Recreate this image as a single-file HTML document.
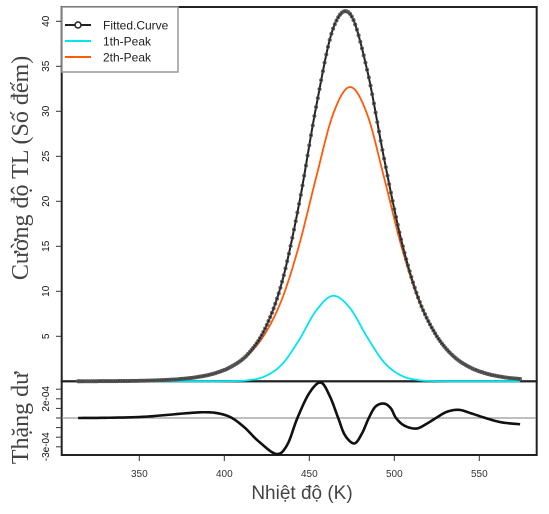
<!DOCTYPE html>
<html><head><meta charset="utf-8"><style>
body{margin:0;background:#fff}
svg{display:block;font-family:"Liberation Sans",sans-serif}
</style></head><body>
<svg id="c" width="549" height="514" viewBox="0 0 549 514"></svg>
<script>
const temps=[314,324,334,344,354,364,374,384,394,404,414,424,434,444,454,464,474,484,494,504,514,524,534,544,554,564,574];
const fittedVals=[0.006,0.011,0.021,0.039,0.072,0.135,0.25,0.47,0.87,1.617,3.045,5.86,11.07,19.71,30.48,39.19,40.82,34.61,24.74,15.76,9.31,5.32,2.93,1.60,0.87,0.47,0.25];
const peak1Vals=[0,0,0,0,0,0,0,0,0,0.017,0.115,0.56,1.90,4.59,7.85,9.50,8.12,4.92,2.11,0.64,0.137,0.02,0,0,0,0,0];
const peak2Vals=[0.006,0.011,0.021,0.039,0.072,0.135,0.25,0.47,0.87,1.60,2.93,5.30,9.17,15.12,22.63,29.69,32.7,29.69,22.63,15.12,9.17,5.30,2.93,1.60,0.87,0.47,0.25];
const residTemps=[314,330,350,365,378,388,396,404,412,420,430.6,437,443,450,456.7,462,467,471,476.5,481,485,489,494,498,501,506,513,519,524.5,531,538,545,553.6,563,574];
const residVals=[0,0.02,0.1,0.3,0.5,0.6,0.5,0.05,-1.0,-2.4,-3.75,-2.8,0,2.6,3.7,2.3,0,-1.8,-2.65,-1.6,0,1.2,1.5,1.0,0,-0.8,-1.1,-0.6,0,0.65,0.85,0.5,0,-0.45,-0.65];
const xTicks=[350,400,450,500,550];
const yTicks=[5,10,15,20,25,30,35,40];
const rTicks=[3,2,1,0,-1,-2,-3];
const rTickLabels={2:"2e-04","-3":"-3e-04"};

const NS="http://www.w3.org/2000/svg";
const svg=document.getElementById('c');
function el(t,a,p){const e=document.createElementNS(NS,t);for(const k in a)e.setAttribute(k,a[k]);(p||svg).appendChild(e);return e;}
const X=k=>139.3+(k-350)*1.7;
const Y=v=>381.3-v*9.0;
const RY=r=>418-r*9.6;
function spline(xs,ys,n){const pts=[];const m=xs.length;
 for(let i=0;i<m-1;i++){const p0=[xs[Math.max(i-1,0)],ys[Math.max(i-1,0)]],p1=[xs[i],ys[i]],p2=[xs[i+1],ys[i+1]],p3=[xs[Math.min(i+2,m-1)],ys[Math.min(i+2,m-1)]];
  for(let s=0;s<n;s++){const t=s/n,t2=t*t,t3=t2*t;
   const f=(a,b,c,d)=>0.5*((2*b)+(-a+c)*t+(2*a-5*b+4*c-d)*t2+(-a+3*b-3*c+d)*t3);
   pts.push([f(p0[0],p1[0],p2[0],p3[0]),f(p0[1],p1[1],p2[1],p3[1])]);}}
 pts.push([xs[m-1],ys[m-1]]);return pts;}
const toD=p=>'M'+p.map(q=>q[0].toFixed(2)+','+q[1].toFixed(2)).join('L');

const topFrame=el('rect',{x:61.7,y:7,width:475,height:374.3,fill:'none',stroke:'#222','stroke-width':2});


const botFrame=el('rect',{x:61.7,y:381.3,width:475,height:73.7,fill:'none',stroke:'#222','stroke-width':2});


const zl=el('line',{x1:62,x2:536,y1:RY(0),y2:RY(0),stroke:'#999','stroke-width':1.2});



yTicks.forEach(v=>{
 const t=el('line',{x1:56,x2:61.7,y1:Y(v),y2:Y(v),stroke:'#333'});
 
 
 const l=el('text',{x:0,y:0,'font-size':10,'text-anchor':'middle',fill:'#111',transform:`translate(49,${Y(v)}) rotate(-90)`});
 l.textContent=v;
 
 
});
rTicks.forEach(r=>{
 const t=el('line',{x1:56,x2:61.7,y1:RY(r),y2:RY(r),stroke:'#333'});
 
 
 if(rTickLabels[r]){const l=el('text',{x:0,y:0,'font-size':10,'text-anchor':'middle',fill:'#111',transform:`translate(49,${RY(r)}) rotate(-90)`});
  l.textContent=rTickLabels[r];
  
  }
});
xTicks.forEach(k=>{
 const t=el('line',{x1:X(k),x2:X(k),y1:455,y2:461,stroke:'#333'});
 
 
 const l=el('text',{x:X(k),y:477,'font-size':10,'text-anchor':'middle',fill:'#333'});
 l.textContent=k;
 
 
});

const c1=el('path',{d:toD(spline(temps.map(X),peak1Vals.map(Y),12)),fill:'none',stroke:'#00e5ee','stroke-width':1.8});


const c2=el('path',{d:toD(spline(temps.map(X),peak2Vals.map(Y),12)),fill:'none',stroke:'#ff5a0a','stroke-width':1.8});


const fp=spline(temps.map(X),fittedVals.map(Y),12);
const c3=el('path',{d:toD(fp),fill:'none',stroke:'#222','stroke-width':2});


const mg=el('g',{fill:'none',stroke:'#555','stroke-width':0.8});


const fpm=spline(temps.map(X),fittedVals.map(Y),10);
fpm.forEach(p=>{const m=el('circle',{cx:p[0],cy:p[1],r:1.6},mg);
 
 });

const rp=spline(residTemps.map(X),residVals.map(RY),8);
const rl=el('path',{d:toD(rp),fill:'none',stroke:'#111','stroke-width':2.6});



const lg=el('g',{});


el('rect',{x:62,y:7,width:116,height:65,fill:'#fff',stroke:'#999','stroke-width':1.5},lg);
[['Fitted.Curve','#222',25],['1th-Peak','#00e5ee',41],['2th-Peak','#ff5a0a',57]].forEach(([n,c,y],i)=>{
 const ln=el('line',{x1:65,x2:91,y1:y,y2:y,stroke:c,'stroke-width':2},lg);
 
 
 if(i===0){el('circle',{cx:78,cy:y,r:3,fill:'#fff',stroke:'#222','stroke-width':1.5},lg);}
 const t=el('text',{x:103,y:y+4.5,'font-size':12,fill:'#222'},lg);
 t.textContent=n;
 
 
});

const yt=el('text',{x:0,y:0,'font-size':24,'text-anchor':'middle',fill:'#444','font-family':'"Liberation Serif",serif',transform:'translate(28,168) rotate(-90)'});
yt.textContent='Cường độ TL (Số đếm)';


const rt=el('text',{x:0,y:0,'font-size':24,'text-anchor':'middle',fill:'#444','font-family':'"Liberation Serif",serif',transform:'translate(28,418) rotate(-90)'});
rt.textContent='Thặng dư';


const xt=el('text',{x:302,y:499,'font-size':19,'text-anchor':'middle',fill:'#444'});
xt.textContent='Nhiệt độ (K)';


</script>
</body></html>
